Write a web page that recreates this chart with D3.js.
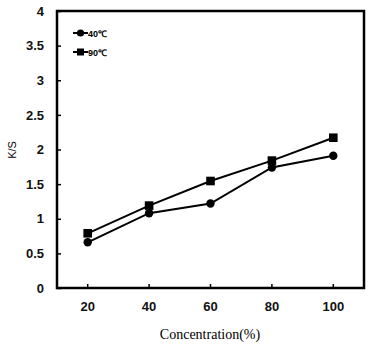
<!DOCTYPE html>
<html><head><meta charset="utf-8">
<script src="https://cdn.jsdelivr.net/npm/d3@7"></script>
<style>body{margin:0;background:#fff}
.ser{font-family:"Times New Roman","Liberation Serif","DejaVu Serif",serif}
.tk{font-family:Arial,"Liberation Sans",sans-serif}
</style>
</head><body>
<svg id="c" width="374" height="347"></svg>
<script>
const categories = ["20","40","60","80","100"];
const s40 = [0.66, 1.08, 1.22, 1.74, 1.91];
const s90 = [0.79, 1.19, 1.545, 1.84, 2.17];
const yTicks = [0,0.5,1,1.5,2,2.5,3,3.5,4];
const seriesNames = ["40℃","90℃"];

const svg = d3.select("#c");
const L=57,R=364,T=11,B=288;
const x = d3.scaleBand().domain(categories).range([L,R]);
const y = d3.scaleLinear().domain([0,4]).range([B,T]);

svg.append("rect").attr("x",L).attr("y",T).attr("width",R-L).attr("height",B-T)
  .attr("fill","none").attr("stroke","#000").attr("stroke-width",2.5);

const yAxis = svg.append("g").attr("transform",`translate(${L},0)`)
  .call(d3.axisLeft(y).tickValues(yTicks).tickFormat(d=>String(d)).tickSize(-4).tickPadding(13));
const xAxis = svg.append("g").attr("transform",`translate(0,${B})`)
  .call(d3.axisBottom(x).tickSize(-4).tickPadding(14));
[yAxis,xAxis].forEach(g=>{
  g.select(".domain").remove();
  g.selectAll("line").attr("stroke","#000").attr("stroke-width",1.5);
  g.attr("font-family",null);
  g.selectAll("text").attr("class","tk")
   .attr("font-weight","bold").attr("font-size",13).attr("fill","#111");
});

svg.append("text").attr("transform","translate(16,150) rotate(-90)")
  .attr("text-anchor","middle").attr("class","tk")
  .attr("font-size",11).text("K/S");
svg.append("text").attr("x",210).attr("y",339).attr("text-anchor","middle")
  .attr("class","ser").attr("font-size",14)
  .text("Concentration(%)");

const line = d3.line().x((d,i)=>x(categories[i])+x.bandwidth()/2).y(d=>y(d));
function drawSeries(data, shape){
  svg.append("path").datum(data).attr("d",line).attr("fill","none")
    .attr("stroke","#000").attr("stroke-width",2);
  data.forEach((v,i)=>{
    const cx=x(categories[i])+x.bandwidth()/2, cy=y(v);
    if(shape==="circle") svg.append("circle").attr("cx",cx).attr("cy",cy).attr("r",4.2).attr("fill","#000");
    else svg.append("rect").attr("x",cx-4.3).attr("y",cy-4.3).attr("width",8.6).attr("height",8.6).attr("fill","#000");
  });
}
drawSeries(s40,"circle");
drawSeries(s90,"square");

const lg = [{n:seriesNames[0],s:"circle",yy:33},{n:seriesNames[1],s:"square",yy:52}];
lg.forEach(d=>{
  svg.append("line").attr("x1",73).attr("x2",88).attr("y1",d.yy).attr("y2",d.yy)
    .attr("stroke","#000").attr("stroke-width",2);
  if(d.s==="circle") svg.append("circle").attr("cx",80.5).attr("cy",d.yy).attr("r",3.6).attr("fill","#000");
  else svg.append("rect").attr("x",77).attr("y",d.yy-3.5).attr("width",7).attr("height",7).attr("fill","#000");
  svg.append("text").attr("x",88).attr("y",d.yy+3.5).attr("class","tk")
    .attr("font-weight","bold").attr("font-size",9).text(d.n);
});
</script>
</body></html>
